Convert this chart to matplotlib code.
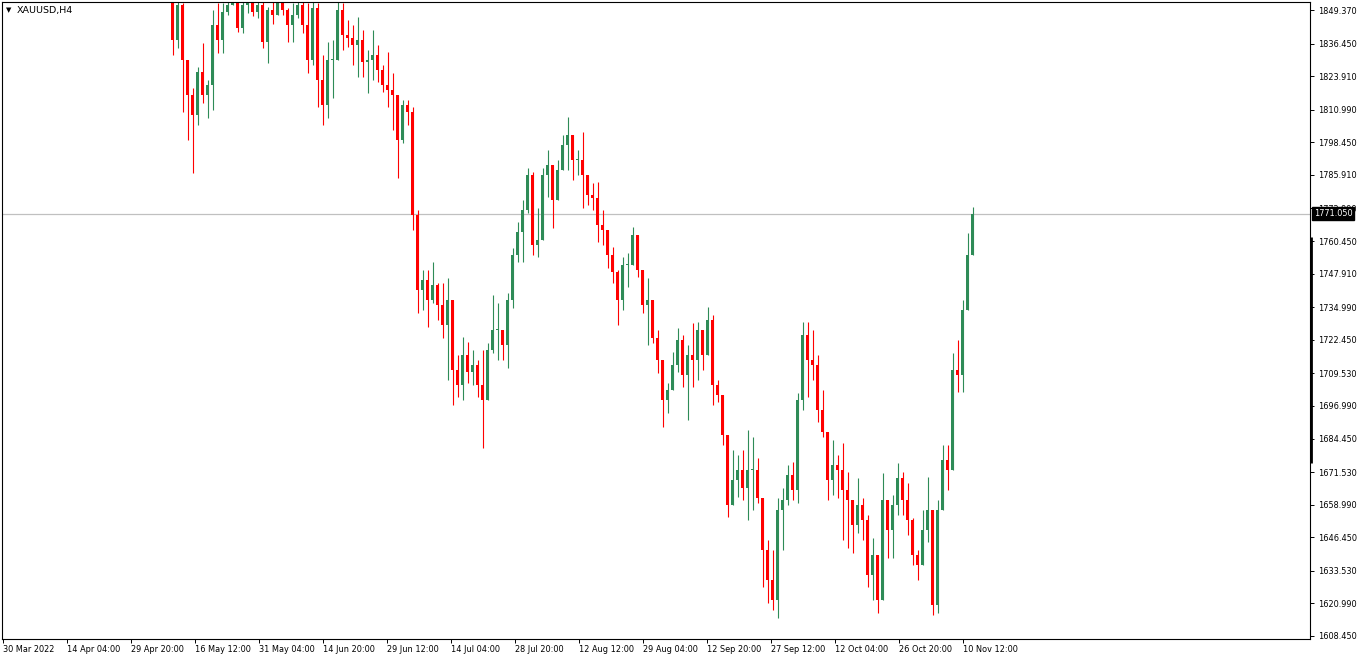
# encoding: utf-8
import numpy as np
import matplotlib
matplotlib.use('Agg')
import matplotlib.pyplot as plt
from matplotlib.transforms import blended_transform_factory

plt.rcParams['font.family'] = ['DejaVu Sans']

# 1、品种与K线分组（每根画出的K线合并5根H4柱）
symbol = 'XAUUSD,H4'
first_bar = 137
group = 5
first_open = 1858.0

# 2、K线数据（从图上读取的价格）
highs = [
    1860.9, 1862.8, 1864.8, 1864.0, 1861.7, 1859.0, 1854.0, 1853.2, 1852.0, 1829.3,
    1819.3, 1827.4, 1836.6, 1822.4, 1849.4, 1852.0, 1852.0, 1854.0, 1856.3, 1854.0,
    1853.2, 1855.1, 1854.4, 1854.0, 1853.2, 1850.5, 1853.2, 1856.3, 1854.4, 1850.1,
    1852.0, 1854.4, 1854.0, 1852.0, 1852.4, 1852.0, 1832.0, 1837.0, 1837.8, 1853.2,
    1852.0, 1845.5, 1843.6, 1846.7, 1841.6, 1833.9, 1841.6, 1835.9, 1828.2, 1833.2,
    1825.1, 1814.7, 1814.7, 1814.7, 1812.0, 1772.4, 1749.3, 1749.3, 1752.3, 1744.3,
    1744.3, 1746.2, 1737.7, 1716.5, 1723.5, 1721.5, 1718.5, 1714.6, 1718.5, 1721.1,
    1739.6, 1736.5, 1726.2, 1740.4, 1757.7, 1767.7, 1776.2, 1788.5, 1787.0, 1773.1,
    1788.5, 1795.5, 1789.7, 1791.6, 1801.2, 1808.2, 1800.1, 1795.5, 1802.4, 1783.9,
    1782.7, 1783.1, 1772.4, 1761.6, 1758.1, 1749.3, 1754.2, 1755.8, 1765.8, 1761.9,
    1749.3, 1746.2, 1733.1, 1726.2, 1712.7, 1705.7, 1717.7, 1726.9, 1724.2, 1720.4,
    1728.8, 1729.2, 1722.3, 1735.0, 1731.9, 1706.9, 1699.2, 1683.8, 1680.0, 1678.0,
    1680.0, 1687.7, 1684.9, 1676.9, 1658.8, 1645.3, 1641.5, 1661.5, 1665.3, 1674.2,
    1675.3, 1701.9, 1729.2, 1729.2, 1726.2, 1716.5, 1703.1, 1685.7, 1683.8, 1678.0,
    1682.6, 1671.5, 1656.9, 1669.2, 1661.5, 1654.9, 1646.1, 1631.8, 1671.1, 1653.8,
    1662.6, 1675.0, 1671.5, 1667.2, 1653.8, 1641.5, 1656.9, 1669.6, 1645.3, 1660.7,
    1681.9, 1681.9, 1717.3, 1722.3, 1737.7, 1763.5, 1773.5,
]
lows = [
    1852.4, 1856.3, 1857.1, 1855.1, 1854.4, 1852.4, 1832.0, 1834.7, 1810.1, 1799.3,
    1786.6, 1805.1, 1813.5, 1807.8, 1810.9, 1832.8, 1832.8, 1847.4, 1851.3, 1840.9,
    1840.5, 1848.2, 1847.0, 1846.3, 1834.7, 1828.9, 1844.0, 1852.0, 1847.4, 1837.0,
    1837.0, 1846.3, 1840.5, 1825.1, 1828.2, 1812.0, 1805.1, 1807.8, 1815.5, 1841.7,
    1833.9, 1835.1, 1828.2, 1823.6, 1823.6, 1817.4, 1822.4, 1821.6, 1817.8, 1812.0,
    1803.2, 1784.7, 1798.1, 1805.1, 1764.7, 1732.7, 1733.9, 1727.3, 1736.5, 1730.0,
    1723.1, 1706.9, 1697.3, 1700.4, 1699.2, 1705.7, 1705.0, 1700.4, 1680.7, 1711.5,
    1717.3, 1714.6, 1714.6, 1711.5, 1734.6, 1752.3, 1752.3, 1771.2, 1755.0, 1754.2,
    1763.5, 1777.4, 1765.4, 1776.2, 1789.7, 1787.8, 1783.9, 1785.8, 1773.1, 1774.3,
    1772.4, 1760.0, 1758.9, 1750.0, 1744.2, 1728.1, 1733.9, 1742.7, 1753.9, 1746.6,
    1732.7, 1720.4, 1721.1, 1709.6, 1688.8, 1694.2, 1705.7, 1710.0, 1704.2, 1691.5,
    1704.2, 1706.9, 1710.8, 1720.4, 1697.3, 1698.4, 1681.9, 1654.2, 1658.8, 1661.9,
    1660.7, 1653.0, 1656.9, 1659.6, 1627.2, 1621.0, 1618.4, 1615.3, 1641.5, 1658.8,
    1660.7, 1659.6, 1695.4, 1700.4, 1706.9, 1690.7, 1684.9, 1660.7, 1662.6, 1661.5,
    1645.3, 1642.2, 1640.3, 1648.0, 1645.3, 1627.2, 1622.2, 1617.2, 1628.7, 1638.4,
    1638.4, 1654.9, 1654.9, 1647.2, 1635.7, 1629.9, 1642.2, 1644.5, 1616.4, 1617.2,
    1660.7, 1664.6, 1672.3, 1702.3, 1702.3, 1745.4, 1755.8,
]
closes = [
    1855.1, 1859.0, 1861.7, 1857.8, 1857.1, 1854.0, 1837.8, 1851.3, 1830.1, 1816.6,
    1808.9, 1825.5, 1816.6, 1820.5, 1843.6, 1837.8, 1848.6, 1851.3, 1854.0, 1842.4,
    1851.3, 1852.4, 1848.6, 1851.3, 1837.0, 1849.4, 1847.4, 1853.2, 1849.4, 1843.6,
    1847.4, 1851.3, 1843.6, 1830.1, 1850.1, 1822.4, 1812.8, 1830.1, 1830.1, 1849.4,
    1839.7, 1838.6, 1835.9, 1837.8, 1829.3, 1830.1, 1832.0, 1826.3, 1820.5, 1818.5,
    1816.6, 1799.3, 1812.8, 1810.1, 1770.4, 1741.6, 1745.4, 1737.7, 1743.5, 1735.8,
    1728.1, 1737.7, 1710.8, 1705.0, 1716.5, 1710.0, 1712.7, 1705.0, 1699.2, 1718.5,
    1726.2, 1726.2, 1720.4, 1737.7, 1755.0, 1763.9, 1772.4, 1785.8, 1758.9, 1760.8,
    1785.8, 1789.7, 1776.2, 1787.8, 1797.4, 1801.2, 1791.6, 1791.6, 1785.8, 1778.1,
    1777.0, 1766.6, 1764.7, 1755.0, 1748.5, 1737.7, 1751.2, 1751.2, 1762.7, 1749.3,
    1735.8, 1737.7, 1723.1, 1714.6, 1699.2, 1703.1, 1712.7, 1722.3, 1708.8, 1716.5,
    1714.6, 1726.2, 1716.5, 1730.0, 1705.0, 1701.1, 1685.7, 1658.8, 1668.4, 1672.3,
    1665.3, 1672.3, 1672.3, 1661.5, 1641.5, 1629.9, 1622.2, 1656.9, 1660.7, 1670.3,
    1664.6, 1699.2, 1724.2, 1714.6, 1712.7, 1695.4, 1686.9, 1668.4, 1674.2, 1672.3,
    1664.6, 1660.7, 1651.1, 1658.8, 1653.0, 1631.8, 1639.5, 1622.2, 1660.7, 1649.2,
    1658.8, 1669.2, 1660.7, 1653.0, 1639.5, 1635.7, 1649.2, 1656.9, 1620.3, 1656.9,
    1676.1, 1672.3, 1710.8, 1708.8, 1733.9, 1755.0, 1771.05,
]

# 3、坐标轴刻度
date_labels = ['30 Mar 2022', '14 Apr 04:00', '29 Apr 20:00', '16 May 12:00',
               '31 May 04:00', '14 Jun 20:00', '29 Jun 12:00', '14 Jul 04:00',
               '28 Jul 20:00', '12 Aug 12:00', '29 Aug 04:00', '12 Sep 20:00',
               '27 Sep 12:00', '12 Oct 04:00', '26 Oct 20:00', '10 Nov 12:00']
label_step = 64
price_ticks = [1849.370, 1836.450, 1823.910, 1810.990, 1798.450, 1785.910,
               1772.990, 1760.450, 1747.910, 1734.990, 1722.450, 1709.530,
               1696.990, 1684.450, 1671.530, 1658.990, 1646.450, 1633.530,
               1620.990, 1608.450]
last_price = 1771.050
scale_mark = (1675.0, 1762.0)

UP = '#2E8B57'
DOWN = '#FF0000'


def draw():
    fig = plt.figure(figsize=(13.62, 6.60), dpi=100)
    ax = fig.add_axes([2 / 1362, 21 / 660, 1308 / 1362, 637 / 660])

    c = np.array(closes)
    o = np.r_[first_open, c[:-1]]
    h = np.maximum.reduce([np.array(highs), o, c])
    l = np.minimum.reduce([np.array(lows), o, c])
    x = first_bar + group * np.arange(len(c)) + group / 2
    colors = np.where(c >= o, UP, DOWN)

    # K线：影线 + 实体
    ax.vlines(x, l, h, colors=colors, linewidth=0.8)
    ax.bar(x, np.maximum(np.abs(c - o), 0.4), bottom=np.minimum(o, c),
           width=2.6, color=colors, linewidth=0)

    # 当前价格线
    ax.axhline(last_price, color='#C0C0C0', linewidth=0.9, zorder=0)

    ax.set_xlim(-1, 1307)
    ax.set_ylim(1607.29, 1852.45)

    ax.set_xticks(np.arange(len(date_labels)) * label_step)
    ax.set_xticklabels(date_labels, ha='left')
    ax.set_yticks(price_ticks)
    ax.set_yticklabels([f'{p:.3f}' for p in price_ticks])
    ax.yaxis.tick_right()
    ax.tick_params(axis='both', direction='out', length=3, width=0.7,
                   color='black', labelsize=5.9, labelcolor='black')
    ax.tick_params(axis='x', pad=1.5)
    ax.tick_params(axis='y', pad=2.5)
    for s in ax.spines.values():
        s.set_color('black')
        s.set_linewidth(0.8)

    tr = blended_transform_factory(ax.transAxes, ax.transData)
    ax.plot([1.0008, 1.0008], scale_mark, transform=tr, color='black',
            linewidth=2.0, clip_on=False, solid_capstyle='butt')
    ax.annotate(f'{last_price:.3f}', xy=(1, last_price), xycoords=tr,
                xytext=(2.6, 0), textcoords='offset points', ha='left', va='center',
                color='white', fontsize=5.9, annotation_clip=False, zorder=5,
                bbox=dict(boxstyle='square,pad=0.25', fc='black', ec='black'))

    ax.text(0.003, 0.9874, '\u25bc', transform=ax.transAxes, fontsize=5,
            va='center', ha='left')
    ax.text(0.0115, 0.9874, symbol, transform=ax.transAxes, fontsize=6.8,
            va='center', ha='left')

    fig.savefig('out.png', dpi=100, facecolor='white')


if __name__ == '__main__':
    draw()
